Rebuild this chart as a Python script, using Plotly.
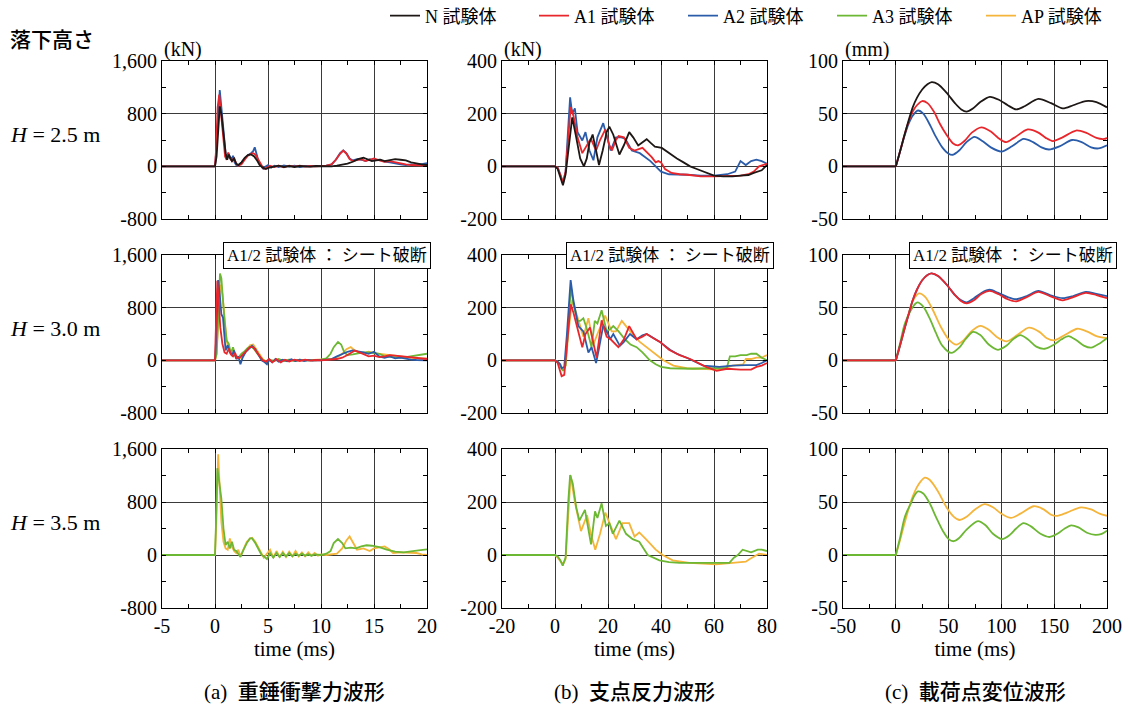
import plotly.graph_objects as go

W, H = 1130, 707

# ---------------- colours ----------------
C_N, C_A1, C_A2, C_A3, C_AP = "#1d1715", "#e8262b", "#2a5caa", "#6cb733", "#f5b43a"

# ---------------- axis tick data ----------------
IMP_X_TICKS = [-5, 0, 5, 10, 15, 20]
RXN_X_TICKS = [-20, 0, 20, 40, 60, 80]
DSP_X_TICKS = [-50, 0, 50, 100, 150, 200]
IMP_Y_TICKS = [-800, 0, 800, 1600]
IMP_Y_LABELS = ["-800", "0", "800", "1,600"]
RXN_Y_TICKS = [-200, 0, 200, 400]
DSP_Y_TICKS = [-50, 0, 50, 100]

# ======== H = 2.5 m : impact force (kN) ========
IMP25_N_T = [-5, 0, 0.15, 0.3, 0.45, 0.6, 0.8, 1.0, 1.15, 1.3, 1.45, 1.6, 1.8, 2.0, 2.2, 2.5, 2.8, 3.1, 3.4, 3.7, 4.0, 4.2, 4.5, 4.8, 5.1, 5.5, 6, 6.5, 7, 7.5, 8, 8.5, 9, 9.5, 10, 10.5, 11, 11.5, 12, 12.5, 13, 13.5, 14, 14.4, 14.8, 15.2, 15.6, 16, 16.5, 17, 17.5, 18, 18.5, 19, 19.5, 20]
IMP25_N_V = [0, 0, 150, 600, 910, 800, 500, 200, 100, 180, 120, 80, 120, 40, 20, 60, 130, 170, 180, 150, 80, 20, -20, -40, -20, -10, 10, -10, 5, -10, 5, 0, -5, 5, 0, 5, 0, 10, 20, 40, 70, 110, 130, 110, 80, 90, 100, 80, 90, 110, 100, 90, 60, 40, 30, 20]
IMP25_A1_T = [-5, 0, 0.1, 0.25, 0.4, 0.55, 0.75, 0.95, 1.1, 1.25, 1.4, 1.6, 1.8, 2.0, 2.2, 2.5, 2.8, 3.1, 3.4, 3.6, 3.8, 4.0, 4.2, 4.4, 4.6, 4.9, 5.2, 5.6, 6, 6.5, 7, 7.5, 8, 8.5, 9, 9.5, 10, 10.5, 11, 11.4, 11.8, 12.1, 12.4, 12.7, 13.0, 13.4, 13.8, 14.2, 14.6, 15.0, 15.5, 16, 16.5, 17, 17.5, 18, 18.5, 19, 19.5, 20]
IMP25_A1_V = [0, 0, 250, 900, 1090, 800, 400, 150, 100, 210, 120, 80, 130, 40, 10, 30, 100, 160, 190, 200, 180, 120, 60, 0, -40, -20, 10, -10, 10, -15, 10, -5, 10, -5, 5, 0, 5, 10, 30, 100, 190, 240, 190, 110, 80, 100, 110, 80, 100, 120, 90, 70, 80, 60, 40, 30, 20, 20, 10, 10]
IMP25_A2_T = [-5, 0, 0.1, 0.3, 0.45, 0.6, 0.8, 1.0, 1.1, 1.25, 1.4, 1.55, 1.7, 1.85, 2.0, 2.2, 2.5, 2.8, 3.1, 3.4, 3.6, 3.75, 3.9, 4.1, 4.3, 4.5, 4.7, 5.0, 5.3, 5.6, 6.0, 6.5, 7, 7.5, 8, 8.5, 9, 9.5, 10, 10.5, 11, 11.4, 11.8, 12.1, 12.4, 12.7, 13.0, 13.4, 13.8, 14.2, 14.6, 15.0, 15.5, 16, 16.5, 17, 17.5, 18, 18.5, 19, 19.5, 20]
IMP25_A2_V = [0, 0, 200, 800, 1160, 900, 500, 200, 120, 200, 150, 100, 160, 60, 20, 10, 60, 120, 170, 200, 230, 290, 180, 80, 30, -30, -10, 20, -20, 10, -10, 15, -5, 10, -10, 5, 0, 5, 0, 10, 30, 100, 200, 240, 200, 120, 90, 110, 100, 80, 110, 90, 100, 70, 60, 40, 30, 20, 30, 20, 40, 50]

# ======== H = 2.5 m : support reaction (kN) ========
RXN25_N_T = [-20, 0, 1, 2, 3, 4, 5, 6.5, 8, 9.5, 10.9, 12, 13, 14.2, 15.5, 16.6, 18, 19.5, 20.5, 22, 24.3, 26, 28, 29.5, 31.4, 33, 34.6, 36, 37.7, 40.3, 43, 46, 48.5, 51, 53.5, 56, 58, 60, 63.5, 67, 70, 73, 75, 78, 80]
RXN25_N_V = [0, 0, -10, -40, -72, -30, 60, 186, 110, 30, 0, 30, 90, 121, 60, 5, 60, 130, 151, 120, 45, 80, 130, 110, 79, 90, 103, 90, 75, 70, 50, 30, 15, 0, -10, -20, -28, -35, -38, -38, -35, -33, -25, -15, 5]
RXN25_A1_T = [-20, 0, 1, 2, 3, 4, 5, 5.9, 7, 8.5, 10.3, 11.5, 13.5, 15.5, 17, 19, 20.5, 21.5, 23, 24, 26, 28, 30, 33, 35, 36.5, 38, 39, 40, 41.5, 44, 47, 50, 55, 60, 65, 70, 73, 75, 77, 80]
RXN25_A1_V = [0, 0, -5, -30, -60, -20, 120, 225, 190, 110, 50, 70, 105, 60, 100, 140, 80, 60, 100, 115, 110, 70, 60, 70, 50, 35, 15, 20, 15, -10, -25, -30, -32, -38, -38, -36, -35, -30, -20, 0, 10]
RXN25_A2_T = [-20, 0, 1, 2, 3, 4, 5, 5.7, 6.5, 7.5, 8.5, 10.3, 11.5, 13, 14.5, 16, 18.2, 19.5, 21, 23, 25, 26.5, 29, 32, 34, 36, 38, 40, 43, 45, 50, 55, 60, 65, 68, 70, 72, 74, 76, 78, 80]
RXN25_A2_V = [0, 0, -5, -30, -65, -20, 150, 262, 200, 220, 130, 98, 130, 60, 23, 110, 164, 120, 60, 110, 110, 105, 60, 50, 35, 20, 0, -20, -30, -30, -32, -35, -35, -30, -20, 20, 5, 20, 25, 20, 10]

# ======== H = 2.5 m : loading-point displacement (mm) ========
DSP25_N_T = [-50, -1, 0, 1, 4, 8, 12, 16, 20, 25, 30, 34, 40, 48, 56, 62, 67, 73, 80, 89, 98, 106, 114, 122, 135, 147, 158, 168, 180, 190, 200]
DSP25_N_V = [0, 0, 0, 3.5, 14, 29, 43, 56, 65, 73, 78, 80, 78, 70, 60, 54, 52, 55, 61, 66, 63, 58, 54, 57, 64, 60, 55, 58, 62, 61, 56]
DSP25_A1_T = [-50, -1, 0, 1, 4, 8, 12, 16, 20, 25, 30, 36, 42, 48, 54, 59, 65, 72, 81, 90, 97, 104.6, 112, 125, 135, 142, 148.7, 157, 170.7, 180, 190, 197.5, 200]
DSP25_A1_V = [0, 0, 0, 3.5, 14, 29, 42, 52, 58, 62, 60, 52, 40, 30, 22, 20, 24, 32, 37, 33, 27, 23, 27, 35, 32, 27, 24, 27, 34, 32, 27, 26, 27]
DSP25_A2_T = [-50, -1, 0, 1, 4, 8, 12, 16, 21, 26, 32, 38, 44, 50, 54, 60, 67, 74.6, 82, 90, 100, 110, 121, 130, 138, 145, 155, 167, 176, 185, 192, 200]
DSP25_A2_V = [0, 0, 0, 3.5, 14, 28, 40, 48, 53, 50, 40, 28, 18, 12, 11, 15, 23, 28, 24, 18, 14, 19, 26, 23, 18, 16, 19, 25, 23, 18, 17, 20]

# ======== H = 3.0 m : impact force (kN) ========
IMP30_A3_T = [-5, 0, 0.15, 0.3, 0.47, 0.6, 0.75, 0.9, 1.1, 1.3, 1.5, 1.7, 1.9, 2.1, 2.3, 2.5, 2.8, 3.1, 3.4, 3.7, 4.0, 4.3, 4.6, 4.9, 5.2, 5.6, 6, 6.5, 7, 7.5, 8, 8.5, 9, 9.5, 10, 10.5, 10.9, 11.2, 11.6, 11.9, 12.2, 12.5, 13, 13.5, 14, 14.5, 15, 15.5, 16, 16.5, 17, 17.5, 18, 18.5, 19, 19.5, 20]
IMP30_A3_V = [0, 0, 100, 700, 1320, 1250, 900, 600, 300, 250, 100, 200, 80, 30, 60, 100, 140, 190, 210, 170, 100, 40, 0, -30, 10, -10, 20, -10, 10, -10, 10, 0, 5, 0, 10, 30, 100, 200, 280, 240, 120, 80, 90, 110, 120, 120, 110, 100, 60, 50, 40, 40, 50, 60, 70, 80, 100]
IMP30_AP_T = [-5, 0, 0.15, 0.3, 0.5, 0.7, 0.9, 1.1, 1.3, 1.5, 1.7, 1.9, 2.1, 2.4, 2.7, 3.0, 3.3, 3.6, 3.9, 4.2, 4.5, 4.8, 5.1, 5.5, 6, 6.5, 7, 7.5, 8, 8.5, 9, 9.5, 10, 10.5, 11, 11.5, 12, 12.4, 12.8, 13.1, 13.5, 14, 14.5, 15, 15.5, 16, 16.5, 17, 17.5, 18, 18.5, 19, 19.5, 20]
IMP30_AP_V = [0, 0, 100, 600, 1150, 1000, 600, 300, 150, 120, 180, 60, 40, 30, 90, 150, 230, 240, 170, 90, 20, -20, 0, -10, 10, -5, 10, -5, 5, 0, 5, 0, 10, 10, 20, 40, 100, 170, 200, 160, 120, 110, 130, 110, 100, 90, 70, 60, 50, 40, 40, 30, 30, 30]
IMP30_A2_T = [-5, 0, 0.1, 0.3, 0.45, 0.6, 0.75, 0.9, 1.0, 1.2, 1.4, 1.6, 1.8, 2.0, 2.2, 2.4, 2.6, 2.9, 3.2, 3.5, 3.8, 4.1, 4.4, 4.7, 4.9, 5.1, 5.4, 5.7, 6, 6.4, 6.8, 7.2, 7.6, 8, 8.4, 8.8, 9.2, 9.6, 10, 10.5, 11, 11.5, 12, 12.5, 13, 13.5, 14, 14.5, 15, 15.5, 16, 16.5, 17, 17.5, 18, 18.5, 19, 19.5, 20]
IMP30_A2_V = [0, 0, 300, 1220, 1000, 700, 650, 400, 150, 230, 120, 80, 150, 20, 60, -60, 40, 130, 180, 220, 170, 80, 0, -30, -60, 10, -30, 20, -20, 10, -15, 15, -10, 10, -10, 5, -5, 5, 0, 10, 20, 60, 100, 130, 150, 140, 120, 100, 130, 60, 40, 60, 30, 40, 20, 10, 5, 0, 0]
IMP30_A1_T = [-5, 0, 0.05, 0.22, 0.35, 0.5, 0.7, 0.9, 1.1, 1.3, 1.5, 1.7, 1.9, 2.1, 2.4, 2.7, 3.0, 3.3, 3.6, 3.9, 4.2, 4.5, 4.8, 5.1, 5.4, 5.8, 6.2, 6.6, 7, 7.5, 8, 8.5, 9, 9.5, 10, 10.5, 11, 11.5, 12, 12.5, 13.2, 13.6, 14, 14.5, 15, 15.5, 16, 16.5, 17, 17.5, 18, 18.5, 19, 19.5, 20]
IMP30_A1_V = [0, 0, 300, 1210, 900, 500, 250, 120, 100, 180, 90, 60, 110, 30, 50, 100, 160, 200, 200, 130, 60, 0, -20, 20, -30, 20, -30, 10, -20, 10, -10, 10, -5, 5, 0, 5, 10, 20, 40, 80, 150, 120, 90, 60, 70, 50, 60, 80, 70, 60, 50, 40, 30, 20, 20]

# ======== H = 3.0 m : support reaction (kN) ========
RXN30_A3_T = [-20, 0, 1, 2, 3, 4, 5, 6, 7, 8.5, 9.5, 10.7, 12, 13.8, 15, 16, 17.6, 19.5, 21, 22, 24, 26.4, 28.5, 30.8, 33, 35.8, 38, 40, 43.4, 47, 52, 58, 62, 64.8, 66, 68, 70, 72.3, 74, 76, 78, 80]
RXN30_A3_V = [0, 0, -5, -20, -40, -20, 150, 280, 210, 150, 150, 160, 120, 50, 150, 140, 190, 110, 120, 130, 110, 80, 60, 50, 30, 0, -15, -25, -30, -32, -32, -30, -30, -30, 15, 15, 20, 20, 25, 25, 10, 0]
RXN30_AP_T = [-20, 0, 1, 2, 3, 4, 5, 6.5, 8, 9.4, 10.7, 12.6, 14.5, 16, 18.9, 21.4, 23, 25.2, 28.3, 30, 32, 35.8, 38, 40.9, 44.7, 49.7, 55, 61, 64, 67, 71, 72, 74, 76, 78, 80]
RXN30_AP_V = [0, 0, -5, -20, -35, -20, 100, 230, 180, 130, 90, 160, 60, 100, 170, 110, 110, 150, 110, 90, 70, 40, 20, 0, -20, -30, -32, -35, -30, -20, -15, 5, 5, 10, 10, 20]
RXN30_A2_T = [-20, 0, 1, 2, 2.5, 3.5, 4.5, 5.9, 6.9, 8.8, 10.7, 12.6, 13.8, 15.5, 16.5, 18.2, 20, 20.8, 22, 24.5, 26, 28.3, 30.8, 33, 34.6, 37, 39.6, 43.4, 46, 49.7, 53, 56, 62, 67, 72, 76, 78, 80]
RXN30_A2_V = [0, 0, -5, -15, -30, -25, 100, 305, 230, 130, 110, 30, 50, -10, 40, 133, 100, 80, 100, 55, 70, 100, 80, 95, 100, 85, 70, 40, 25, 10, -5, -20, -25, -20, -18, -18, -10, 0]
RXN30_A1_T = [-20, 0, 1, 2, 2.5, 3.5, 4.5, 5.9, 7, 8.5, 10.3, 11.5, 13.2, 15.7, 17.6, 19.5, 21, 23.9, 26, 28, 30.8, 33, 34.6, 37, 39.6, 43, 47, 51, 54, 57, 61, 65, 70, 74, 76, 78, 80]
RXN30_A1_V = [0, 0, -10, -40, -60, -55, 50, 213, 180, 120, 50, 100, 125, 10, 152, 90, 80, 50, 80, 130, 80, 90, 100, 85, 70, 40, 20, 5, -10, -25, -40, -32, -35, -35, -25, -20, -10]

# ======== H = 3.0 m : loading-point displacement (mm) ========
DSP30_A3_T = [-50, -1, 0, 1, 4, 8, 11, 14, 17, 20.5, 26, 32, 38, 44, 52.6, 60, 66, 73, 80, 88, 96.7, 105, 111, 118, 125, 133, 141, 150, 157, 163.5, 171, 178, 185, 193, 200]
DSP30_A3_V = [0, 0, 0, 4, 16, 33, 41, 47, 52, 55, 51, 40, 26, 14, 7, 12, 20, 27, 24, 15, 10, 14, 20, 24, 20, 13, 11, 15, 20, 23, 19, 14, 12, 16, 21]
DSP30_AP_T = [-50, -1, 0, 1, 4, 8, 12, 16, 22, 28, 35, 42, 50, 57.3, 64, 72, 80.3, 88, 96, 105, 115, 126, 136, 143, 150, 160, 172, 182, 190, 200]
DSP30_AP_V = [0, 0, 0, 3.5, 14, 29, 44, 56, 63.5, 60, 48, 33, 20, 15, 19, 28, 32.7, 29, 22, 18, 24, 31, 27, 21, 19, 24, 30, 27, 23, 21]
DSP30_A2_T = [-50, -1, 0, 1, 4, 8, 12, 16, 20, 25, 30, 34, 40, 48, 56, 62, 67, 74, 81, 89, 97, 106, 114, 124, 135, 146, 158, 168, 180, 190, 200]
DSP30_A2_V = [0, 0, 0, 3.5, 14, 29, 43, 57, 67, 76, 81, 82.5, 80, 72, 62, 57, 55, 59, 64, 67, 64, 60, 58, 61, 66, 62, 59, 61, 65, 63, 61]
DSP30_A1_T = [-50, -1, 0, 1, 4, 8, 12, 16, 20, 25, 30, 34, 40, 48, 56, 62, 67, 74, 81, 89, 97, 106, 114, 124, 135, 146, 158, 168, 180, 190, 200]
DSP30_A1_V = [0, 0, 0, 3.5, 14, 29, 43, 57, 67, 76, 81, 82.5, 80, 72, 62, 56, 54, 57, 63, 66, 63, 58, 56, 60, 65, 61, 57, 60, 64, 62, 59]

# ======== H = 3.5 m : impact force (kN) ========
IMP35_AP_T = [-5, 0, 0.1, 0.3, 0.45, 0.6, 0.8, 1.0, 1.2, 1.4, 1.6, 1.8, 2.0, 2.2, 2.4, 2.7, 3.0, 3.3, 3.5, 3.8, 4.1, 4.4, 4.6, 4.9, 5.2, 5.5, 5.8, 6.1, 6.4, 6.7, 7.0, 7.3, 7.6, 7.9, 8.2, 8.5, 8.8, 9.1, 9.4, 9.7, 10, 10.5, 11, 11.5, 12, 12.4, 12.7, 13.0, 13.4, 14.0, 14.6, 15.0, 15.5, 16.0, 16.4, 16.8, 17.5, 18, 18.5, 19, 19.5, 20]
IMP35_AP_V = [0, 0, 400, 1520, 1000, 500, 200, 100, 80, 250, 120, 60, 30, 80, -20, 100, 200, 250, 260, 200, 100, 20, -40, 20, 80, -40, 60, -30, 50, -30, 50, -20, 60, -20, 40, -20, 40, -10, 30, -10, 10, 0, 10, 20, 100, 220, 280, 200, 80, 100, 60, 100, 110, 130, 90, 30, 40, 40, 30, 30, 10, 0]
IMP35_A3_T = [-5, 0, 0.1, 0.22, 0.4, 0.6, 0.8, 1.0, 1.2, 1.4, 1.6, 1.8, 2.0, 2.2, 2.4, 2.7, 3.0, 3.3, 3.5, 3.8, 4.1, 4.4, 4.6, 4.9, 5.2, 5.5, 5.8, 6.1, 6.4, 6.7, 7.0, 7.3, 7.6, 7.9, 8.2, 8.5, 8.8, 9.1, 9.4, 9.7, 10, 10.5, 10.9, 11.2, 11.6, 12.0, 12.3, 12.8, 13.3, 13.8, 14.3, 14.8, 15.5, 16.2, 17, 17.8, 18.5, 19.2, 20]
IMP35_A3_V = [0, 0, 500, 1310, 1100, 850, 400, 150, 200, 100, 200, 80, 60, 20, -30, 80, 180, 250, 250, 180, 80, 0, -20, -60, 30, -40, 30, -30, 30, -20, 30, -20, 20, -10, 20, -10, 10, -10, 10, 0, 0, 20, 60, 180, 240, 180, 100, 110, 100, 130, 147, 140, 120, 80, 50, 40, 50, 70, 85]

# ======== H = 3.5 m : support reaction (kN) ========
RXN35_AP_T = [-20, 0, 1, 2, 3, 4, 5, 5.9, 7.5, 9.8, 12.1, 13.5, 15.2, 17, 19, 20.5, 23, 25.5, 28, 30, 31.8, 34.3, 38, 40.6, 44.4, 50.7, 55, 60.8, 67, 72, 73.5, 75.2, 77, 80]
RXN35_AP_V = [0, 0, -10, -25, -35, -15, 150, 300, 200, 90, 150, 80, 20, 80, 160, 120, 60, 120, 120, 70, 85, 60, 20, 0, -20, -30, -33, -35, -30, -25, -15, -5, 5, 0]
RXN35_A3_T = [-20, 0, 1, 2, 2.9, 4, 5, 5.7, 6.7, 8, 9.2, 11.3, 13.6, 15.1, 16, 17.6, 19.2, 20.5, 21.8, 24.3, 26.8, 29.3, 31.8, 35, 39.4, 43, 47, 55, 62, 65.8, 67.5, 69, 70.8, 72.5, 74, 76.5, 78, 80]
RXN35_A3_V = [0, 0, -5, -20, -40, -10, 200, 302, 270, 180, 130, 170, 40, 165, 140, 195, 110, 120, 80, 130, 80, 60, 50, 0, -20, -27, -30, -30, -30, -30, -10, 0, 20, 15, 10, 20, 20, 15]

# ======== H = 3.5 m : loading-point displacement (mm) ========
DSP35_AP_T = [-50, -1, 0, 1, 4, 8, 12, 16, 20, 24, 27.4, 32, 40, 48, 55, 60.5, 67, 75, 84, 92, 100, 109, 118, 130.7, 140, 147, 153, 162, 175.4, 185, 193, 200]
DSP35_AP_V = [0, 0, 0, 3.5, 14, 29, 43, 55, 64, 70, 73, 71, 60, 45, 36, 33, 36, 43, 48, 45, 39, 35, 39, 46, 43, 38, 37, 40, 45, 43, 39, 37]
DSP35_A3_T = [-50, -1, 0, 1, 4, 8, 11, 14, 17, 21, 26, 32, 38, 45, 50, 54.8, 60, 67, 77.8, 85, 92, 100.5, 108, 114, 121, 128, 137, 145.5, 153, 160, 166, 173, 181, 189, 195, 200]
DSP35_A3_V = [0, 0, 0, 4, 16, 34, 42, 48, 55, 60, 58, 49, 36, 22, 15, 13, 16, 24, 32, 28, 20, 15, 19, 25, 30, 27, 20, 17, 20, 25, 28, 26, 21, 19, 20, 23]

# ---------------- layout geometry (pixels) ----------------
COL_PX = [(162, 427), (502, 767), (843, 1107)]
ROW_PX = [(61, 219), (255, 413), (449, 608)]


def fx(px):
    return px / W


def fy(py):
    return 1 - py / H


SERIF = "Liberation Serif, Noto Sans CJK JP"
GOTH = "Noto Sans CJK JP"

fig = go.Figure()

LEG = {"N": (C_N, "N 試験体", 1), "A1": (C_A1, "A1 試験体", 2), "A2": (C_A2, "A2 試験体", 3),
       "A3": (C_A3, "A3 試験体", 4), "AP": (C_AP, "AP 試験体", 5)}
shown = set()


def add(panel, t, v, key, spline=False):
    color, label, rank = LEG[key]
    show = key not in shown
    shown.add(key)
    ax = "" if panel == 0 else str(panel + 1)
    fig.add_trace(go.Scatter(
        x=t, y=v, mode="lines", name=label, showlegend=show,
        legendrank=rank, xaxis="x" + ax, yaxis="y" + ax,
        line=dict(color=color, width=1.8, shape="spline" if spline else "linear",
                  smoothing=0.8 if spline else None),
        hoverinfo="skip"))


# row 1 (H=2.5)
add(0, IMP25_A2_T, IMP25_A2_V, "A2"); add(0, IMP25_A1_T, IMP25_A1_V, "A1"); add(0, IMP25_N_T, IMP25_N_V, "N")
add(1, RXN25_A2_T, RXN25_A2_V, "A2"); add(1, RXN25_A1_T, RXN25_A1_V, "A1"); add(1, RXN25_N_T, RXN25_N_V, "N")
add(2, DSP25_A2_T, DSP25_A2_V, "A2", True); add(2, DSP25_A1_T, DSP25_A1_V, "A1", True); add(2, DSP25_N_T, DSP25_N_V, "N", True)
# row 2 (H=3.0)
add(3, IMP30_AP_T, IMP30_AP_V, "AP"); add(3, IMP30_A3_T, IMP30_A3_V, "A3"); add(3, IMP30_A2_T, IMP30_A2_V, "A2"); add(3, IMP30_A1_T, IMP30_A1_V, "A1")
add(4, RXN30_AP_T, RXN30_AP_V, "AP"); add(4, RXN30_A3_T, RXN30_A3_V, "A3"); add(4, RXN30_A2_T, RXN30_A2_V, "A2"); add(4, RXN30_A1_T, RXN30_A1_V, "A1")
add(5, DSP30_AP_T, DSP30_AP_V, "AP", True); add(5, DSP30_A3_T, DSP30_A3_V, "A3", True); add(5, DSP30_A2_T, DSP30_A2_V, "A2", True); add(5, DSP30_A1_T, DSP30_A1_V, "A1", True)
# row 3 (H=3.5)
add(6, IMP35_AP_T, IMP35_AP_V, "AP"); add(6, IMP35_A3_T, IMP35_A3_V, "A3")
add(7, RXN35_AP_T, RXN35_AP_V, "AP"); add(7, RXN35_A3_T, RXN35_A3_V, "A3")
add(8, DSP35_AP_T, DSP35_AP_V, "AP", True); add(8, DSP35_A3_T, DSP35_A3_V, "A3", True)

X_TICKS = [IMP_X_TICKS, RXN_X_TICKS, DSP_X_TICKS]
Y_TICKS = [IMP_Y_TICKS, RXN_Y_TICKS, DSP_Y_TICKS]
Y_LABELS = [IMP_Y_LABELS, [str(v) for v in RXN_Y_TICKS], [str(v) for v in DSP_Y_TICKS]]

GRID = "#3a3a3a"
TICKFONT = dict(family=SERIF, size=20, color="black")
layout = {}
for r in range(3):
    for c in range(3):
        p = r * 3 + c
        ax = "" if p == 0 else str(p + 1)
        xt, yt = X_TICKS[c], Y_TICKS[c]
        xdt, ydt = xt[1] - xt[0], yt[1] - yt[0]
        layout["xaxis" + ax] = dict(
            domain=[fx(COL_PX[c][0]), fx(COL_PX[c][1])], anchor="y" + ax,
            range=[xt[0], xt[-1]], tickmode="array", tickvals=xt, ticktext=[str(v) for v in xt],
            showticklabels=(r == 2), showgrid=True, gridcolor=GRID, gridwidth=1, zeroline=False,
            showline=True, linecolor="black", linewidth=1, mirror="ticks",
            ticks="inside", ticklen=4, tickcolor="black", automargin=False,
            minor=dict(tickmode="linear", tick0=xt[0] + xdt / 2, dtick=xdt, ticks="inside", ticklen=4,
                       tickcolor="black", showgrid=False),
            tickfont=TICKFONT,
            title=dict(text="time (ms)" if r == 2 else "", font=dict(family=SERIF, size=21, color="black"),
                       standoff=2),
        )
        layout["yaxis" + ax] = dict(
            domain=[fy(ROW_PX[r][1]), fy(ROW_PX[r][0])], anchor="x" + ax,
            range=[yt[0], yt[-1]], tickmode="array", tickvals=yt, ticktext=Y_LABELS[c],
            showgrid=True, gridcolor=GRID, gridwidth=1, zeroline=False,
            showline=True, linecolor="black", linewidth=1, mirror="ticks",
            ticks="inside", ticklen=4, tickcolor="black", automargin=False,
            minor=dict(tickmode="linear", tick0=yt[0] + ydt / 2, dtick=ydt, ticks="inside", ticklen=4,
                       tickcolor="black", showgrid=False),
            tickfont=TICKFONT,
        )

ann = []
ann.append(dict(text="落下高さ", x=fx(8), y=fy(38), xanchor="left", yanchor="middle",
                font=dict(family=GOTH, size=21, color="black", weight=500)))
for r, lab in enumerate(["2.5", "3.0", "3.5"]):
    ann.append(dict(text="<i>H</i> = " + lab + " m", x=fx(8), y=fy(ROW_PX[r][0] + 73),
                    xanchor="left", yanchor="middle", font=dict(family=SERIF, size=22, color="black")))
for c, u in enumerate(["(kN)", "(kN)", "(mm)"]):
    ann.append(dict(text=u, x=fx(COL_PX[c][0]), y=fy(49), xanchor="left", yanchor="middle",
                    font=dict(family=SERIF, size=20, color="black")))
for c, xr in enumerate([431, 774, 1117]):
    ann.append(dict(text="A1/2 試験体 ： シート破断", x=fx(xr), y=fy(255), xanchor="right", yanchor="middle",
                    bgcolor="white", bordercolor="black", borderwidth=1, borderpad=3,
                    font=dict(family=SERIF, size=17, color="black")))
for c, cap in enumerate(["(a)  重錘衝撃力波形", "(b)  支点反力波形", "(c)  載荷点変位波形"]):
    ann.append(dict(text=cap, x=fx((COL_PX[c][0] + COL_PX[c][1]) / 2), y=fy(692),
                    xanchor="center", yanchor="middle",
                    font=dict(family=SERIF, size=21, color="black", weight=500)))
for a in ann:
    a.update(xref="paper", yref="paper", showarrow=False)

fig.update_layout(
    width=W, height=H, margin=dict(l=0, r=0, t=0, b=0, autoexpand=False),
    paper_bgcolor="white", plot_bgcolor="white",
    annotations=ann,
    legend=dict(orientation="h", x=fx(385), y=fy(16), xanchor="left", yanchor="middle",
                font=dict(family=SERIF, size=18, color="black"), entrywidth=104,
                bgcolor="rgba(0,0,0,0)", itemwidth=30),
    **layout,
)

# remove the browser's default 8px page margin so the figure fills the window exactly
fig.write_html("out.html", config={"displayModeBar": False},
               post_script="document.body.style.margin='0px';")
